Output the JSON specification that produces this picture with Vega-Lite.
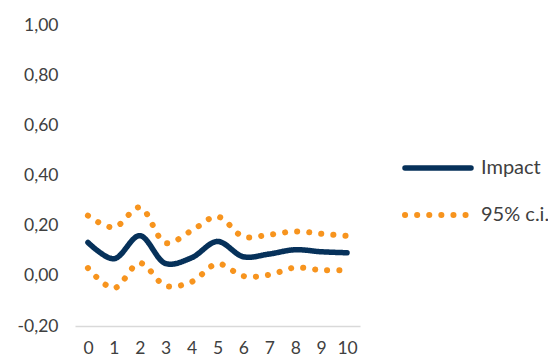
{
  "$schema": "https://vega.github.io/schema/vega-lite/v6.json",
  "width": 285,
  "height": 301,
  "autosize": {"type": "none"},
  "padding": {"left": 75, "top": 25, "right": 188, "bottom": 32},
  "background": "white",
  "config": {
    "view": {"stroke": null},
    "font": "Lato",
    "locale": {"number": {"decimal": ",", "thousands": ".", "grouping": [3], "currency": ["", " €"], "minus": "-"}}
  },
  "data": {
    "values": [
      {"x": 0, "series": "Impact", "band": "mid", "v": 0.133},
      {"x": 1, "series": "Impact", "band": "mid", "v": 0.068},
      {"x": 2, "series": "Impact", "band": "mid", "v": 0.16},
      {"x": 3, "series": "Impact", "band": "mid", "v": 0.049},
      {"x": 4, "series": "Impact", "band": "mid", "v": 0.072},
      {"x": 5, "series": "Impact", "band": "mid", "v": 0.137},
      {"x": 6, "series": "Impact", "band": "mid", "v": 0.076},
      {"x": 7, "series": "Impact", "band": "mid", "v": 0.087},
      {"x": 8, "series": "Impact", "band": "mid", "v": 0.104},
      {"x": 9, "series": "Impact", "band": "mid", "v": 0.096},
      {"x": 10, "series": "Impact", "band": "mid", "v": 0.092},
      {"x": 0, "series": "95% c.i.", "band": "upper", "v": 0.24},
      {"x": 1, "series": "95% c.i.", "band": "upper", "v": 0.193},
      {"x": 2, "series": "95% c.i.", "band": "upper", "v": 0.273},
      {"x": 3, "series": "95% c.i.", "band": "upper", "v": 0.131},
      {"x": 4, "series": "95% c.i.", "band": "upper", "v": 0.18},
      {"x": 5, "series": "95% c.i.", "band": "upper", "v": 0.236},
      {"x": 6, "series": "95% c.i.", "band": "upper", "v": 0.156},
      {"x": 7, "series": "95% c.i.", "band": "upper", "v": 0.164},
      {"x": 8, "series": "95% c.i.", "band": "upper", "v": 0.177},
      {"x": 9, "series": "95% c.i.", "band": "upper", "v": 0.168},
      {"x": 10, "series": "95% c.i.", "band": "upper", "v": 0.159},
      {"x": 0, "series": "95% c.i.", "band": "lower", "v": 0.031},
      {"x": 1, "series": "95% c.i.", "band": "lower", "v": -0.049},
      {"x": 2, "series": "95% c.i.", "band": "lower", "v": 0.051},
      {"x": 3, "series": "95% c.i.", "band": "lower", "v": -0.04},
      {"x": 4, "series": "95% c.i.", "band": "lower", "v": -0.024},
      {"x": 5, "series": "95% c.i.", "band": "lower", "v": 0.048},
      {"x": 6, "series": "95% c.i.", "band": "lower", "v": -0.001},
      {"x": 7, "series": "95% c.i.", "band": "lower", "v": 0.004},
      {"x": 8, "series": "95% c.i.", "band": "lower", "v": 0.033},
      {"x": 9, "series": "95% c.i.", "band": "lower", "v": 0.023},
      {"x": 10, "series": "95% c.i.", "band": "lower", "v": 0.023}
    ]
  },
  "mark": {"type": "line", "interpolate": "catmull-rom", "strokeCap": "round", "strokeJoin": "round"},
  "encoding": {
    "x": {
      "field": "x", "type": "ordinal", "sort": null,
      "scale": {"type": "point", "padding": 0.5},
      "axis": {
        "title": null, "labelAngle": 0, "ticks": false, "grid": false,
        "domainColor": "#d9d9d9", "domainWidth": 1.5,
        "labelFontSize": 17.5, "labelColor": "#404040", "labelPadding": 13,
        "offset": 0
      }
    },
    "y": {
      "field": "v", "type": "quantitative",
      "scale": {"domain": [-0.2, 1.0], "nice": false, "zero": false},
      "axis": {
        "title": null, "values": [-0.2, 0, 0.2, 0.4, 0.6, 0.8, 1.0], "format": ".2f",
        "domain": false, "ticks": false, "grid": false,
        "labelFontSize": 17.5, "labelColor": "#404040", "labelPadding": 17
      }
    },
    "color": {
      "field": "series", "type": "nominal",
      "scale": {"domain": ["Impact", "95% c.i."], "range": ["#06315a", "#f7941e"]},
      "legend": {
        "title": null, "orient": "none", "legendX": 327, "legendY": 107,
        "symbolType": "stroke", "symbolSize": 4356, "symbolStrokeWidth": 5,
        "labelFontSize": 20, "labelColor": "#404040", "labelOffset": 7,
        "rowPadding": -36,
        "encode": {"symbols": {"update": {"strokeCap": {"value": "round"}}}}
      }
    },
    "strokeDash": {
      "field": "series", "type": "nominal",
      "scale": {"domain": ["Impact", "95% c.i."], "range": [[1, 0], [0.1, 12]]},
      "legend": {
        "title": null, "orient": "none", "legendX": 327, "legendY": 107,
        "symbolType": "stroke", "symbolSize": 4356, "symbolStrokeWidth": 5,
        "labelFontSize": 20, "labelColor": "#404040", "labelOffset": 7,
        "rowPadding": -36,
        "encode": {"symbols": {"update": {"strokeCap": {"value": "round"}}}}
      }
    },
    "strokeWidth": {
      "field": "series", "type": "nominal",
      "scale": {"domain": ["Impact", "95% c.i."], "range": [5.5, 6]},
      "legend": null
    },
    "detail": {"field": "band"}
  }
}
